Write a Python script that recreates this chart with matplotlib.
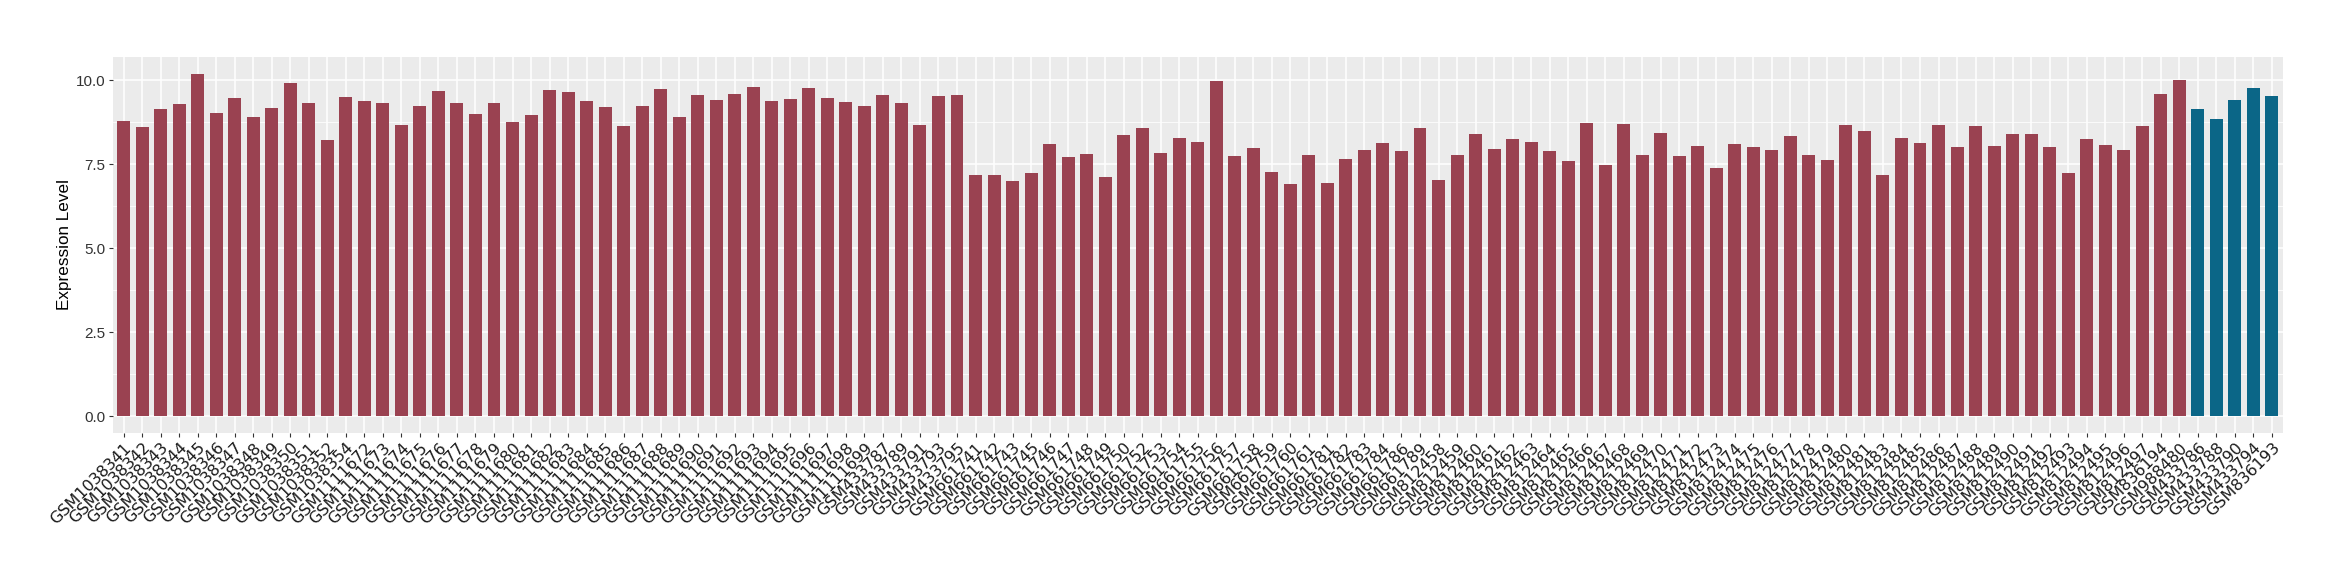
import matplotlib
matplotlib.use('Agg')
import matplotlib.pyplot as plt
from matplotlib.ticker import MultipleLocator, FormatStrFormatter

# ---- data ----
samples_group1 = [
    "GSM1038341", "GSM1038342", "GSM1038343", "GSM1038344", "GSM1038345", "GSM1038346",
    "GSM1038347", "GSM1038348", "GSM1038349", "GSM1038350", "GSM1038351", "GSM1038352",
    "GSM1038354",
    "GSM1111672", "GSM1111673", "GSM1111674", "GSM1111675", "GSM1111676", "GSM1111677",
    "GSM1111678", "GSM1111679", "GSM1111680", "GSM1111681", "GSM1111682", "GSM1111683",
    "GSM1111684", "GSM1111685", "GSM1111686", "GSM1111687", "GSM1111688", "GSM1111689",
    "GSM1111690", "GSM1111691", "GSM1111692", "GSM1111693", "GSM1111694", "GSM1111695",
    "GSM1111696", "GSM1111697", "GSM1111698", "GSM1111699",
    "GSM433787", "GSM433789", "GSM433791", "GSM433793", "GSM433795",
    "GSM661741", "GSM661742", "GSM661743", "GSM661745", "GSM661746", "GSM661747",
    "GSM661748", "GSM661749", "GSM661750", "GSM661752", "GSM661753", "GSM661754",
    "GSM661755", "GSM661756", "GSM661757", "GSM661758", "GSM661759", "GSM661760",
    "GSM661761", "GSM661781", "GSM661782", "GSM661783", "GSM661784", "GSM661786",
    "GSM661789",
    "GSM812458", "GSM812459", "GSM812460", "GSM812461", "GSM812462", "GSM812463",
    "GSM812464", "GSM812465", "GSM812466", "GSM812467", "GSM812468", "GSM812469",
    "GSM812470", "GSM812471", "GSM812472", "GSM812473", "GSM812474", "GSM812475",
    "GSM812476", "GSM812477", "GSM812478", "GSM812479", "GSM812480", "GSM812481",
    "GSM812483", "GSM812484", "GSM812485", "GSM812486", "GSM812487", "GSM812488",
    "GSM812489", "GSM812490", "GSM812491", "GSM812492", "GSM812493", "GSM812494",
    "GSM812495", "GSM812496", "GSM812497",
    "GSM836194", "GSM988480",
]
values_group1 = [
    8.79, 8.61, 9.15, 9.30, 10.19, 9.03, 9.47, 8.91, 9.18, 9.92, 9.33, 8.22,
    9.50, 9.38, 9.33, 8.67, 9.24, 9.68, 9.33, 9.00, 9.33, 8.76, 8.97, 9.71,
    9.65, 9.38, 9.21, 8.64, 9.24, 9.74, 8.91, 9.56, 9.41, 9.59, 9.80, 9.38,
    9.44, 9.77, 9.47, 9.36, 9.24, 9.56, 9.33, 8.67, 9.53, 9.56, 7.18, 7.18,
    7.00, 7.24, 8.11, 7.72, 7.81, 7.12,
    8.37, 8.58, 7.84, 8.28, 8.16, 9.98, 7.75, 7.99, 7.27, 6.91, 7.78, 6.94,
    7.66, 7.93, 8.13, 7.90, 8.58, 7.03, 7.78, 8.40, 7.96, 8.25, 8.16, 7.90,
    7.60, 8.73, 7.48, 8.70,
    7.78, 8.43, 7.75, 8.05, 7.39, 8.11, 8.02, 7.93, 8.34, 7.78, 7.63, 8.67,
    8.49, 7.18, 8.28, 8.13, 8.67, 8.02, 8.64, 8.05, 8.40, 8.40, 8.02, 7.24,
    8.25, 8.08, 7.93, 8.64, 9.59, 10.01,
]
samples_group2 = ["GSM433786", "GSM433788", "GSM433790", "GSM433794", "GSM836193"]
values_group2 = [9.15, 8.85, 9.41, 9.77, 9.53]

color_group1 = "#9A4251"
color_group2 = "#0B6687"

# ---- figure ----
W, H = 2340, 580
fig = plt.figure(figsize=(W / 100, H / 100), dpi=100)
fig.patch.set_facecolor("white")

left, right, top, bottom = 112.5, 2283, 56.7, 433.3
ax = fig.add_axes([left / W, 1 - bottom / H, (right - left) / W, (bottom - top) / H])
ax.set_facecolor("#EBEBEB")

all_samples = samples_group1 + samples_group2
x1 = list(range(len(samples_group1)))
x2 = list(range(len(samples_group1), len(all_samples)))

ax.bar(x1, values_group1, width=0.7, color=color_group1, zorder=3)
ax.bar(x2, values_group2, width=0.7, color=color_group2, zorder=3)

n = len(all_samples)
ax.set_xlim(-0.6, n - 1 + 0.6)
ymax = max(values_group1 + values_group2)
pad = ymax * 0.05
ax.set_ylim(-pad, ymax + pad)

ax.yaxis.set_major_locator(MultipleLocator(2.5))
ax.yaxis.set_minor_locator(MultipleLocator(1.25))
ax.yaxis.set_major_formatter(FormatStrFormatter("%.1f"))
ax.set_xticks(range(n))
ax.set_xticklabels(all_samples, rotation=45, ha="right", va="top",
                   rotation_mode="anchor",
                   fontsize=11.5, family="DejaVu Sans", color="#1A1A1A")
ax.tick_params(axis="y", which="major", labelsize=11, labelcolor="#333333",
               length=2.75, width=0.8, color="#333333", pad=2.2)
ax.tick_params(axis="x", which="major", length=2.75, width=0.8, color="#333333", pad=2.2)
ax.tick_params(axis="y", which="minor", length=0)
for lbl in ax.get_yticklabels():
    lbl.set_family("Liberation Sans")

ax.grid(True, which="major", axis="both", color="white", linewidth=1.1, zorder=0)
ax.grid(True, which="minor", axis="y", color="white", linewidth=0.55, zorder=0)
ax.set_axisbelow(True)
for s in ax.spines.values():
    s.set_visible(False)

fig.text(65 / W, 1 - ((top + bottom) / 2) / H, "Expression Level", rotation=90,
         ha="center", va="center", fontsize=12.3, family="Liberation Sans", color="black")

fig.savefig("out.png", dpi=100, facecolor="white")
